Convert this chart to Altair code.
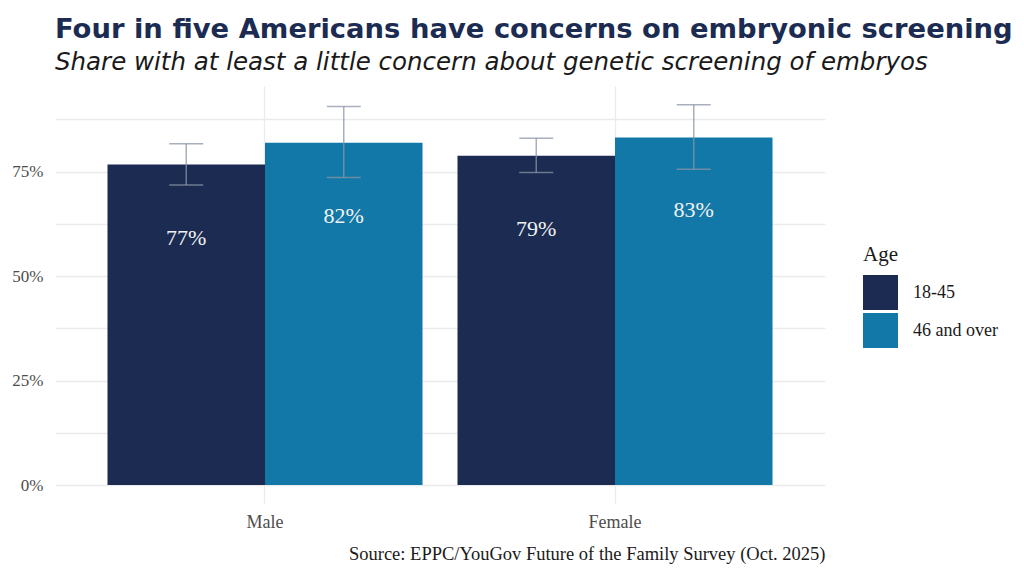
import altair as alt
import pandas as pd

gender = ["Male", "Male", "Female", "Female"]
age = ["18-45", "46 and over", "18-45", "46 and over"]
share = [76.7, 81.9, 78.8, 83.2]
low = [71.8, 73.6, 74.8, 75.6]
high = [81.7, 90.6, 83.0, 91.0]

df = pd.DataFrame({"gender": gender, "age": age, "share": share, "low": low, "high": high})

NAVY = "#1B2B51"
TEAL = "#1278A8"
SERIF = "Liberation Serif"
SANS = "DejaVu Sans"

xenc = alt.X(
    "gender:N",
    sort=["Male", "Female"],
    scale=alt.Scale(paddingInner=0.1, paddingOuter=0.15),
    axis=alt.Axis(
        title="Source: EPPC/YouGov Future of the Family Survey (Oct. 2025)",
        titleAnchor="end",
        titleAlign="right",
        titleFont=SERIF,
        titleFontSize=18.5,
        titleFontWeight="normal",
        titleColor="#1a1a1a",
        titlePadding=13,
        labelFont=SERIF,
        labelFontSize=18,
        labelColor="#4d4d4d",
        labelPadding=10,
        labelAngle=0,
        ticks=False,
        domain=False,
        grid=True,
        gridColor="#ebebeb",
        gridWidth=1.3,
        bandPosition=0.5,
    ),
)
yscale = alt.Scale(domain=[-4.3, 95.5], nice=False, zero=False)
xoff = alt.XOffset("age:N", sort=["18-45", "46 and over"])

bars = alt.Chart(df).mark_bar().encode(
    x=xenc,
    xOffset=xoff,
    y=alt.Y(
        "share:Q",
        scale=yscale,
        axis=alt.Axis(
            title=None,
            values=[0, 12.5, 25, 37.5, 50, 62.5, 75, 87.5],
            labelExpr="datum.value % 25 == 0 ? datum.value + '%' : ''",
            labelFont=SERIF,
            labelFontSize=17,
            labelColor="#4d4d4d",
            labelPadding=12,
            ticks=False,
            domain=False,
            grid=True,
            gridColor="#ebebeb",
            gridWidth=1.3,
        ),
    ),
    y2=alt.datum(0),
    color=alt.Color(
        "age:N",
        sort=["18-45", "46 and over"],
        scale=alt.Scale(domain=["18-45", "46 and over"], range=[NAVY, TEAL]),
        legend=alt.Legend(
            title="Age",
            orient="none",
            legendX=808,
            legendY=158,
            titleFont=SERIF,
            titleFontSize=21,
            titleFontWeight="normal",
            titleColor="#1a1a1a",
            titlePadding=10,
            labelFont=SERIF,
            labelFontSize=18,
            labelColor="#1a1a1a",
            labelOffset=15,
            symbolType="square",
            symbolSize=1225,
            symbolStrokeWidth=0,
            symbolOpacity=1,
            rowPadding=3,
        ),
    ),
)

err_rule = alt.Chart(df).mark_rule(color="#8a96a6", opacity=0.75, strokeWidth=1.5).encode(
    x=xenc, xOffset=xoff, y=alt.Y("low:Q", scale=yscale), y2="high:Q"
)
cap_hi = alt.Chart(df).mark_tick(color="#8a96a6", opacity=0.75, thickness=1.5, size=34).encode(
    x=xenc, xOffset=xoff, y=alt.Y("high:Q", scale=yscale)
)
cap_lo = alt.Chart(df).mark_tick(color="#8a96a6", opacity=0.75, thickness=1.5, size=34).encode(
    x=xenc, xOffset=xoff, y=alt.Y("low:Q", scale=yscale)
)

labels = alt.Chart(df).transform_calculate(
    lab="format(datum.share, '.0f') + '%'"
).mark_text(
    font=SERIF, fontSize=22, color="#f2f2f2", baseline="middle", dy=73
).encode(
    x=xenc, xOffset=xoff, y=alt.Y("share:Q", scale=yscale), text="lab:N"
)

chart = alt.layer(bars, err_rule, cap_hi, cap_lo, labels).properties(
    width=770,
    height=417,
    background="white",
    autosize=alt.AutoSizeParams(type="none"),
    padding={"left": 47, "top": 78, "right": 191, "bottom": 62},
    title=alt.TitleParams(
        text="Four in five Americans have concerns on embryonic screening",
        subtitle="Share with at least a little concern about genetic screening of embryos",
        anchor="start",
        frame="group",
        font=SANS,
        fontSize=27.4,
        fontWeight="bold",
        color="#1B2B51",
        subtitleFont=SANS,
        subtitleFontSize=24.5,
        subtitleFontStyle="italic",
        subtitleColor="#1a1a1a",
        subtitlePadding=7,
        offset=12,
    ),
).configure_view(stroke="transparent", strokeWidth=0)

chart.save("out.html", embed_options={"renderer": "svg", "actions": False})
